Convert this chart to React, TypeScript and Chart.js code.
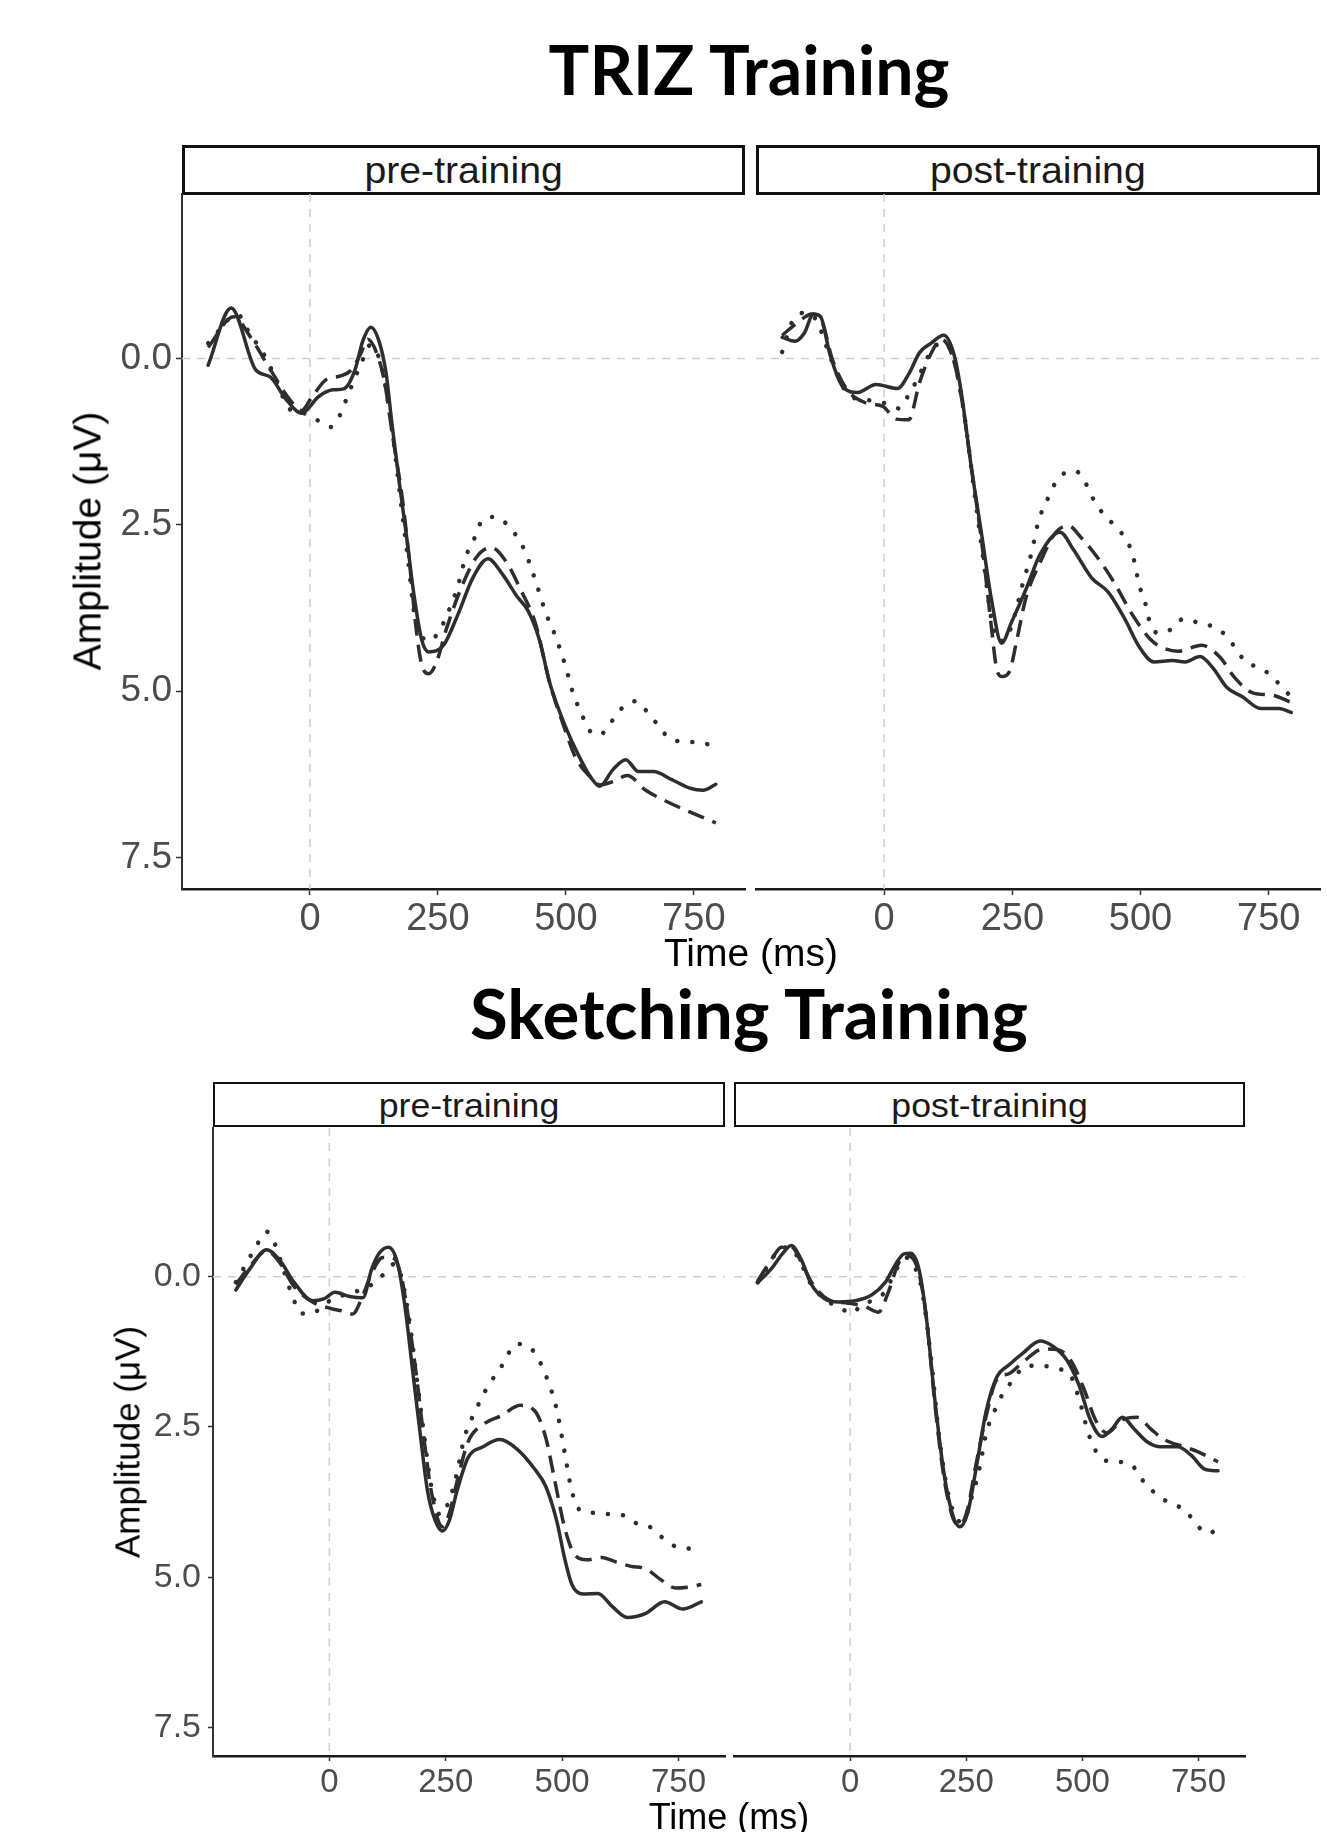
import React, { useEffect, useRef } from "react";
import { Chart, registerables } from "chart.js";

Chart.register(...registerables);

// ---------- data ----------
type Pt = [number, number]; // [time ms, amplitude µV]

const TIME_TICKS = [0, 250, 500, 750];
const AMP_TICKS = [0, 2.5, 5, 7.5];
const X_MIN = -250;
const X_MAX = 850;
const Y_MIN = -2.475;
const Y_MAX = 7.975;

const SECTION_TITLES = ["TRIZ Training", "Sketching Training"];
const STRIP_LABELS = ["pre-training", "post-training"];
const X_TITLE = "Time (ms)";
const Y_TITLE = "Amplitude (\u03bcV)";

const trizPreSolid: Pt[] = [[-199,0.10],[-154,-0.76],[-106,0.17],[-77,0.28],[-48,0.60],[-16,0.82],[17,0.57],[45,0.47],[67,0.45],[88,0.17],[103,-0.26],[119,-0.47],[135,-0.26],[149,0.23],[160,0.97],[175,1.89],[189,2.69],[203,3.54],[218,4.22],[232,4.41],[261,4.31],[289,3.85],[318,3.30],[348,3.01],[376,3.24],[404,3.57],[426,3.79],[448,4.22],[469,4.89],[498,5.51],[527,6.00],[549,6.30],[566,6.43],[592,6.18],[617,6.03],[642,6.21],[671,6.21],[707,6.33],[743,6.46],[768,6.49],[793,6.40]];
const trizPreDashed: Pt[] = [[-199,-0.17],[-149,-0.63],[-116,-0.32],[-77,0.17],[-41,0.60],[-16,0.78],[2,0.60],[31,0.32],[60,0.26],[81,0.17],[99,-0.07],[113,-0.29],[131,-0.07],[146,0.36],[160,1.09],[182,2.19],[196,3.18],[207,4.03],[218,4.59],[232,4.74],[246,4.59],[268,4.03],[297,3.42],[325,2.99],[354,2.84],[383,3.05],[412,3.48],[440,3.97],[469,4.89],[498,5.57],[519,6.00],[549,6.30],[566,6.41],[592,6.36],[620,6.27],[656,6.49],[700,6.67],[743,6.82],[793,6.98]];
const trizPreDotted: Pt[] = [[-199,-0.23],[-141,-0.66],[-116,-0.35],[-95,-0.13],[-73,0.20],[-55,0.54],[-41,0.75],[-12,0.82],[13,0.92],[40,1.03],[60,0.83],[72,0.59],[88,0.29],[103,0.02],[117,-0.20],[135,-0.01],[149,0.48],[164,1.28],[178,2.19],[193,3.11],[203,3.79],[218,4.16],[230,4.25],[250,4.13],[268,3.85],[289,3.42],[304,2.99],[322,2.69],[336,2.44],[361,2.38],[386,2.50],[408,2.72],[422,2.93],[444,3.42],[462,3.85],[476,4.10],[498,4.59],[516,5.08],[530,5.32],[541,5.54],[566,5.66],[587,5.48],[609,5.26],[636,5.15],[661,5.33],[681,5.52],[704,5.72],[735,5.76],[767,5.78],[796,5.84]];

const trizPostSolid: Pt[] = [[-199,-0.32],[-174,-0.26],[-156,-0.38],[-138,-0.67],[-124,-0.63],[-106,-0.07],[-81,0.42],[-52,0.51],[-16,0.39],[26,0.45],[48,0.23],[69,-0.09],[91,-0.23],[116,-0.35],[137,-0.04],[151,0.54],[169,1.58],[191,2.69],[209,3.61],[229,4.28],[248,3.97],[276,3.48],[305,2.93],[343,2.61],[369,2.87],[405,3.30],[437,3.51],[469,3.91],[498,4.34],[526,4.56],[562,4.54],[587,4.56],[616,4.48],[641,4.65],[669,4.95],[698,5.08],[734,5.26],[770,5.26],[794,5.32]];
const trizPostDashed: Pt[] = [[-199,-0.35],[-166,-0.56],[-141,-0.67],[-120,-0.53],[-102,-0.01],[-74,0.45],[-38,0.66],[-2,0.72],[23,0.91],[48,0.92],[69,0.36],[91,-0.07],[112,-0.29],[134,-0.01],[151,0.60],[169,1.58],[191,2.81],[209,4.03],[219,4.65],[230,4.78],[244,4.71],[259,4.22],[276,3.61],[305,3.05],[334,2.62],[359,2.51],[384,2.69],[416,2.99],[448,3.36],[484,3.85],[519,4.22],[541,4.34],[573,4.40],[619,4.31],[655,4.49],[684,4.80],[720,5.03],[756,5.06],[794,5.17]];
const trizPostDotted: Pt[] = [[-199,-0.10],[-177,-0.59],[-152,-0.69],[-131,-0.56],[-106,-0.04],[-81,0.42],[-56,0.60],[-24,0.63],[1,0.67],[30,0.75],[48,0.54],[66,0.29],[84,-0.01],[101,-0.20],[119,-0.23],[137,0.05],[155,0.78],[176,2.01],[194,3.05],[209,3.91],[223,4.25],[241,4.16],[255,3.85],[269,3.42],[287,2.93],[301,2.44],[316,2.16],[330,1.92],[348,1.74],[373,1.69],[394,1.89],[409,2.13],[426,2.32],[448,2.50],[469,2.69],[484,2.93],[498,3.42],[509,3.67],[516,3.91],[534,4.13],[562,4.06],[584,3.91],[612,3.97],[641,4.03],[666,4.16],[684,4.34],[705,4.56],[734,4.65],[759,4.80],[780,4.98],[794,5.08]];

const sketchPreSolid: Pt[] = [[-201,0.22],[-171,-0.13],[-135,-0.45],[-107,-0.28],[-76,0.09],[-36,0.40],[-12,0.37],[12,0.26],[44,0.33],[72,0.35],[91,-0.13],[107,-0.39],[127,-0.49],[147,-0.21],[163,0.53],[179,1.57],[195,2.60],[211,3.57],[227,4.05],[243,4.23],[258,4.05],[274,3.57],[298,3.01],[330,2.83],[366,2.71],[402,2.86],[441,3.20],[465,3.49],[489,4.08],[505,4.67],[521,5.12],[545,5.28],[577,5.27],[608,5.49],[640,5.67],[680,5.60],[720,5.41],[760,5.53],[799,5.41]];
const sketchPreDashed: Pt[] = [[-201,0.13],[-171,-0.17],[-135,-0.43],[-107,-0.24],[-76,0.16],[-36,0.42],[4,0.53],[28,0.57],[50,0.62],[72,0.31],[91,-0.06],[115,-0.32],[135,-0.32],[155,0.01],[171,0.75],[187,1.64],[203,2.68],[219,3.57],[243,4.16],[258,3.93],[274,3.42],[298,2.75],[330,2.46],[370,2.31],[410,2.14],[441,2.23],[465,2.68],[485,3.42],[505,4.16],[525,4.60],[553,4.71],[585,4.67],[617,4.75],[648,4.82],[680,4.86],[712,5.04],[744,5.18],[776,5.16],[799,5.12]];
const sketchPreDotted: Pt[] = [[-201,0.09],[-179,-0.21],[-155,-0.54],[-135,-0.75],[-119,-0.58],[-99,-0.13],[-80,0.31],[-60,0.61],[-36,0.61],[-12,0.46],[28,0.31],[60,0.24],[91,0.13],[119,-0.06],[139,-0.21],[155,0.01],[171,0.68],[187,1.64],[203,2.60],[219,3.49],[239,3.97],[258,3.71],[274,3.27],[290,2.68],[314,2.23],[338,1.86],[370,1.49],[402,1.12],[434,1.20],[465,1.64],[489,2.23],[505,2.90],[521,3.57],[541,3.90],[569,3.93],[601,3.95],[632,3.97],[664,4.12],[688,4.16],[712,4.32],[744,4.49],[776,4.53],[799,4.62]];

const sketchPostSolid: Pt[] = [[-199,0.10],[-170,-0.13],[-145,-0.39],[-127,-0.52],[-105,-0.28],[-83,0.13],[-54,0.37],[-25,0.42],[11,0.40],[47,0.30],[76,0.09],[98,-0.21],[116,-0.38],[130,-0.39],[148,-0.13],[163,0.61],[184,2.16],[202,3.27],[221,3.97],[236,4.16],[253,3.93],[271,3.20],[293,2.23],[315,1.68],[343,1.46],[372,1.27],[409,1.07],[437,1.16],[466,1.38],[492,1.79],[517,2.38],[542,2.66],[564,2.53],[586,2.34],[611,2.53],[640,2.75],[669,2.83],[705,2.83],[734,2.97],[763,3.20],[792,3.23]];
const sketchPostDashed: Pt[] = [[-199,0.07],[-170,-0.28],[-148,-0.49],[-127,-0.50],[-105,-0.24],[-83,0.09],[-47,0.38],[-4,0.44],[33,0.50],[61,0.59],[83,0.24],[105,-0.24],[127,-0.34],[148,-0.06],[163,0.61],[184,2.23],[202,3.34],[221,4.01],[236,4.14],[253,3.86],[271,3.12],[293,2.31],[315,1.72],[343,1.61],[372,1.42],[416,1.20],[445,1.21],[474,1.38],[503,1.86],[528,2.38],[553,2.60],[586,2.38],[618,2.34],[647,2.53],[676,2.71],[719,2.83],[748,2.91],[792,3.08]];
const sketchPostDotted: Pt[] = [[-199,0.09],[-177,-0.17],[-156,-0.43],[-134,-0.49],[-112,-0.32],[-87,0.09],[-54,0.38],[-25,0.50],[4,0.61],[25,0.46],[54,0.38],[76,0.24],[98,-0.10],[119,-0.32],[141,-0.13],[155,0.24],[174,1.35],[192,2.68],[210,3.57],[228,4.01],[242,4.08],[260,3.71],[278,3.20],[293,2.60],[311,2.23],[329,1.94],[351,1.72],[376,1.49],[409,1.48],[445,1.53],[474,1.64],[495,2.09],[510,2.53],[524,2.83],[546,3.05],[575,3.08],[604,3.12],[633,3.42],[669,3.68],[698,3.79],[723,3.90],[745,4.12],[770,4.27],[799,4.16]];

// ---------- styles ----------
const LINE_COLOR = "#2e2e2e";
const AXIS_FONT = "'Liberation Sans', Arial, Helvetica, sans-serif";
const TITLE_FONT = "Lato, 'Open Sans', sans-serif";

type Box = { left: number; top: number; right: number; bottom: number };
type PanelSpec = {
  box: Box;
  area: Box;
  showY: boolean;
  xFont: number;
  yFont: number;
  yPad: number;
  tick: number;
  solid: Pt[];
  dashed: Pt[];
  dotted: Pt[];
};

const refLines = {
  id: "refLines",
  beforeDatasetsDraw(chart: any) {
    const { ctx, chartArea: a, scales } = chart;
    const x = scales.x;
    const y = scales.y;
    ctx.save();
    ctx.strokeStyle = "#cfcfcf";
    ctx.lineWidth = 1.5;
    ctx.setLineDash([8, 7]);
    const px = x.getPixelForValue(0);
    ctx.beginPath();
    ctx.moveTo(px, a.top);
    ctx.lineTo(px, a.bottom);
    ctx.stroke();
    const py = y.getPixelForValue(0);
    ctx.beginPath();
    ctx.moveTo(a.left, py);
    ctx.lineTo(a.right, py);
    ctx.stroke();
    ctx.restore();
  },
};

function Panel({ spec }: { spec: PanelSpec }) {
  const ref = useRef<HTMLCanvasElement>(null);
  const { box, area } = spec;
  const W = box.right - box.left;
  const H = box.bottom - box.top;
  useEffect(() => {
    const canvas = ref.current;
    if (!canvas) return;
    const yW = area.left - box.left;
    const padLeft = spec.showY ? 0 : area.left - box.left;
    const padTop = area.top - box.top;
    const padRight = box.right - area.right;
    const xH = box.bottom - area.bottom;
    const mk = (pts: Pt[], dash: number[], width: number, cap: CanvasLineCap) => ({
      data: pts.map(([x, y]) => ({ x, y })),
      borderColor: LINE_COLOR,
      borderWidth: width,
      borderDash: dash,
      borderCapStyle: cap,
      pointRadius: 0,
      fill: false,
      cubicInterpolationMode: "monotone" as const,
    });
    const chart = new Chart(canvas, {
      type: "line",
      data: {
        datasets: [
          mk(spec.dotted, [0.1, 15], 4.5, "round"),
          mk(spec.dashed, [17, 9], 3.5, "butt"),
          mk(spec.solid, [], 3.5, "round"),
        ],
      },
      options: {
        responsive: false,
        animation: false,
        devicePixelRatio: 1,
        layout: { padding: { left: padLeft, top: padTop, right: padRight, bottom: 0 } },
        plugins: { legend: { display: false }, tooltip: { enabled: false }, title: { display: false } },
        scales: {
          x: {
            type: "linear",
            min: X_MIN,
            max: X_MAX,
            afterBuildTicks: (s: any) => {
              s.ticks = TIME_TICKS.map((v) => ({ value: v }));
            },
            afterFit: (s: any) => {
              s.height = xH;
            },
            grid: { drawOnChartArea: false, drawTicks: true, tickLength: spec.tick, tickColor: "#333333", tickWidth: 1.5 },
            border: { display: true, color: "#1a1a1a", width: 2.5 },
            ticks: {
              font: { family: AXIS_FONT, size: spec.xFont },
              color: "#4d4d4d",
              padding: 2,
              maxRotation: 0,
              autoSkip: false,
              callback: (v: any) => String(v),
            },
          },
          y: {
            type: "linear",
            display: spec.showY,
            reverse: true,
            min: Y_MIN,
            max: Y_MAX,
            afterBuildTicks: (s: any) => {
              s.ticks = AMP_TICKS.map((v) => ({ value: v }));
            },
            afterFit: (s: any) => {
              s.width = spec.showY ? yW : 0;
            },
            grid: { drawOnChartArea: false, drawTicks: true, tickLength: spec.tick, tickColor: "#333333", tickWidth: 1.5 },
            border: { display: true, color: "#333333", width: 2 },
            ticks: {
              font: { family: AXIS_FONT, size: spec.yFont },
              color: "#4d4d4d",
              padding: spec.yPad,
              autoSkip: false,
              callback: (v: any) => Number(v).toFixed(1),
            },
          },
        },
      },
      plugins: [refLines],
    } as any);
    return () => chart.destroy();
  }, []);
  return (
    <canvas
      ref={ref}
      width={W}
      height={H}
      style={{ position: "absolute", left: box.left, top: box.top, width: W, height: H }}
    />
  );
}

const PANELS: PanelSpec[] = [
  { box: { left: 95, top: 160, right: 755, bottom: 945 }, area: { left: 182, top: 194, right: 745, bottom: 889 }, showY: true, xFont: 38, yFont: 37, yPad: 4, tick: 6, solid: trizPreSolid, dashed: trizPreDashed, dotted: trizPreDotted },
  { box: { left: 748, top: 160, right: 1327, bottom: 945 }, area: { left: 756, top: 194, right: 1320, bottom: 889 }, showY: false, xFont: 38, yFont: 37, yPad: 4, tick: 6, solid: trizPostSolid, dashed: trizPostDashed, dotted: trizPostDotted },
  { box: { left: 130, top: 1094, right: 735, bottom: 1810 }, area: { left: 213, top: 1128, right: 725, bottom: 1756 }, showY: true, xFont: 33, yFont: 34, yPad: 7, tick: 5, solid: sketchPreSolid, dashed: sketchPreDashed, dotted: sketchPreDotted },
  { box: { left: 726, top: 1094, right: 1255, bottom: 1810 }, area: { left: 734, top: 1128, right: 1245, bottom: 1756 }, showY: false, xFont: 33, yFont: 34, yPad: 7, tick: 5, solid: sketchPostSolid, dashed: sketchPostDashed, dotted: sketchPostDotted },
];

function Strip({ left, right, top, bottom, label, size, bw, sx }: { left: number; right: number; top: number; bottom: number; label: string; size: number; bw: number; sx: number }) {
  return (
    <div
      style={{
        position: "absolute",
        left,
        top,
        width: right - left,
        height: bottom - top,
        boxSizing: "border-box",
        border: `${bw}px solid #111`,
        display: "flex",
        alignItems: "center",
        justifyContent: "center",
        fontFamily: AXIS_FONT,
        fontSize: size,
        color: "#1a1a1a",
        lineHeight: 1,
        whiteSpace: "nowrap",
      }}
    >
      <span style={{ display: "inline-block", transform: `scaleX(${sx})` }}>{label}</span>
    </div>
  );
}

function Text({ x, top, size, text, font, weight }: { x: number; top: number; size: number; text: string; font: string; weight?: number }) {
  return (
    <div
      style={{
        position: "absolute",
        left: x,
        top,
        transform: "translateX(-50%)",
        fontFamily: font,
        fontWeight: weight || 400,
        fontSize: size,
        lineHeight: `${size}px`,
        color: "#000",
        whiteSpace: "nowrap",
      }}
    >
      {text}
    </div>
  );
}

function YTitle({ cx, cy, size }: { cx: number; cy: number; size: number }) {
  return (
    <div
      style={{
        position: "absolute",
        left: cx,
        top: cy,
        transform: "translate(-50%, -50%) rotate(-90deg)",
        fontFamily: AXIS_FONT,
        fontSize: size,
        lineHeight: `${size}px`,
        color: "#000",
        whiteSpace: "nowrap",
      }}
    >
      {Y_TITLE}
    </div>
  );
}

export default function App() {
  return (
    <div style={{ position: "absolute", left: 0, top: 0, width: 1327, height: 1832, background: "#fff", overflow: "hidden" }}>
      <Text x={749} top={35} size={68} text={SECTION_TITLES[0]} font={TITLE_FONT} weight={700} />
      <Strip left={182} right={745} top={145} bottom={195} label={STRIP_LABELS[0]} size={37} bw={3} sx={1.06} />
      <Strip left={756} right={1320} top={145} bottom={195} label={STRIP_LABELS[1]} size={37} bw={3} sx={1.06} />
      <Panel spec={PANELS[0]} />
      <Panel spec={PANELS[1]} />
      <YTitle cx={87} cy={541} size={39} />
      <Text x={751} top={933} size={39} text={X_TITLE} font={AXIS_FONT} />

      <Text x={749} top={978} size={69} text={SECTION_TITLES[1]} font={TITLE_FONT} weight={700} />
      <Strip left={213} right={725} top={1082} bottom={1127} label={STRIP_LABELS[0]} size={34} bw={2.5} sx={1.05} />
      <Strip left={734} right={1245} top={1082} bottom={1127} label={STRIP_LABELS[1]} size={34} bw={2.5} sx={1.05} />
      <Panel spec={PANELS[2]} />
      <Panel spec={PANELS[3]} />
      <YTitle cx={127} cy={1442} size={35} />
      <Text x={729} top={1799} size={36} text={X_TITLE} font={AXIS_FONT} />
    </div>
  );
}
